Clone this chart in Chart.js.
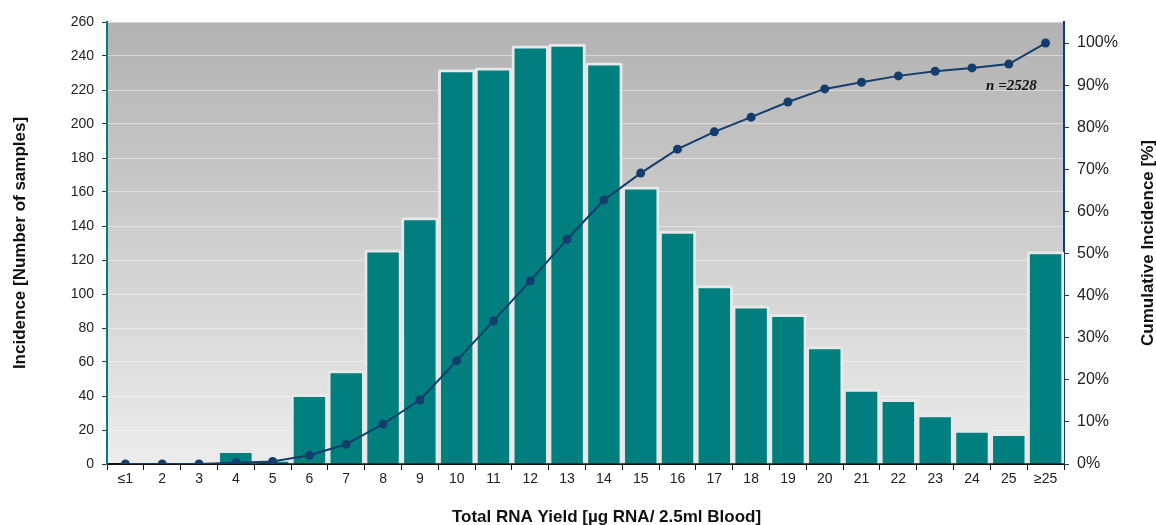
<!DOCTYPE html>
<html>
<head>
<meta charset="utf-8">
<script src="https://cdn.jsdelivr.net/npm/chart.js@4"></script>
<style>
  html, body { margin: 0; padding: 0; background: #ffffff; }
  #wrap { width: 1156px; height: 525px; position: relative; }
</style>
</head>
<body>
<div id="wrap"><canvas id="c"></canvas></div>
<script>
// ---- data ----
const categories = ['≤1','2','3','4','5','6','7','8','9','10','11','12','13','14','15','16','17','18','19','20','21','22','23','24','25','≥25'];
const incidence = [0,0,0,8,2,41,55,126,145,232,233,246,247,236,163,137,105,93,88,69,44,38,29,20,18,125];
const cumulative = [0,0,0,0.3,0.6,2.1,4.7,9.5,15.2,24.5,34.0,43.5,53.4,62.7,69.1,74.8,78.9,82.4,86.0,89.1,90.7,92.2,93.3,94.1,95.0,100];
const leftTitle = 'Incidence [Number of samples]';
const rightTitle = 'Cumulative Incidence [%]';
const bottomTitle = 'Total RNA Yield [µg RNA/ 2.5ml Blood]';
const nLabel = 'n =2528';

const TEAL = '#007f7e';
const NAVY = '#123d6c';

const bgPlugin = {
  id: 'bg',
  beforeDraw(chart) {
    const { ctx, chartArea: a } = chart;
    const g = ctx.createLinearGradient(0, a.top, 0, a.bottom);
    g.addColorStop(0, '#b2b2b2');
    g.addColorStop(1, '#ececec');
    ctx.save();
    ctx.fillStyle = g;
    ctx.fillRect(a.left, a.top, a.right - a.left, a.bottom - a.top);
    ctx.restore();
  },
  afterDraw(chart) {
    const { ctx, chartArea: a } = chart;
    ctx.save();
    // right axis title, reading bottom-to-top
    ctx.translate(1148, (a.top + a.bottom) / 2);
    ctx.rotate(-Math.PI / 2);
    ctx.font = 'bold 17px "Liberation Sans", Arial, sans-serif';
    ctx.fillStyle = '#111';
    ctx.textAlign = 'center';
    ctx.textBaseline = 'middle';
    ctx.fillText(rightTitle, 0, 0);
    ctx.restore();
    // bottom axis title
    ctx.save();
    ctx.font = 'bold 17px "Liberation Sans", Arial, sans-serif';
    ctx.fillStyle = '#111';
    ctx.textAlign = 'center';
    ctx.textBaseline = 'middle';
    ctx.fillText(bottomTitle, (a.left + a.right) / 2 + 21, 517);
    ctx.restore();
    // n label
    const xs = chart.scales.x, y2 = chart.scales.y2;
    ctx.save();
    ctx.font = 'italic bold 15px "Liberation Serif", "Times New Roman", serif';
    ctx.fillStyle = '#111';
    ctx.textAlign = 'center';
    ctx.textBaseline = 'middle';
    ctx.fillText(nLabel, (xs.getPixelForValue(23) + xs.getPixelForValue(24)) / 2 + 21, y2.getPixelForValue(89.8));
    ctx.restore();
  }
};

new Chart(document.getElementById('c'), {
  data: {
    labels: categories,
    datasets: [
      {
        type: 'line',
        data: cumulative,
        yAxisID: 'y2',
        borderColor: NAVY,
        backgroundColor: NAVY,
        borderWidth: 2,
        pointRadius: 4.5,
        pointBackgroundColor: NAVY,
        pointBorderColor: NAVY,
        pointBorderWidth: 0,
        tension: 0,
        order: 0
      },
      {
        type: 'bar',
        data: incidence,
        yAxisID: 'y',
        backgroundColor: TEAL,
        borderColor: '#e8e8e8',
        borderWidth: 3,
        borderRadius: 2,
        borderSkipped: 'bottom',
        barPercentage: 1,
        categoryPercentage: 1,
        order: 1
      }
    ]
  },
  options: {
    responsive: true,
    maintainAspectRatio: false,
    animation: false,
    devicePixelRatio: 1,
    layout: { padding: { top: 22, left: 0, right: 0, bottom: 0 } },
    plugins: { legend: { display: false }, tooltip: { enabled: false } },
    scales: {
      x: {
        offset: true,
        grid: { display: true, drawOnChartArea: false, offset: true, color: '#111', tickColor: '#111', tickLength: 6, lineWidth: 1 },
        border: { display: true, color: '#111', width: 2 },
        ticks: { color: '#222', font: { size: 14, family: '"Liberation Sans", Arial, sans-serif' }, padding: 1, maxRotation: 0, autoSkip: false },
        afterFit(s) { s.height = 61; }
      },
      y: {
        position: 'left',
        min: 0, max: 260,
        ticks: { stepSize: 20, color: '#222', font: { size: 14, family: '"Liberation Sans", Arial, sans-serif' }, padding: 8 },
        grid: { color: 'rgba(255,255,255,0.45)', lineWidth: 1, tickColor: '#333', tickLength: 5 },
        border: { display: true, color: TEAL, width: 2 },
        title: { display: true, text: leftTitle, color: '#111', font: { size: 17, weight: 'bold', family: '"Liberation Sans", Arial, sans-serif' }, padding: { top: 10, bottom: 0 } },
        afterFit(s) { s.width = 107; }
      },
      y2: {
        position: 'right',
        min: 0, max: 105,
        ticks: { stepSize: 10, color: '#222', font: { size: 16, family: '"Liberation Sans", Arial, sans-serif' }, padding: 8, callback: v => v + '%' },
        afterBuildTicks(s) { s.ticks = s.ticks.filter(t => t.value <= 100); },
        grid: { drawOnChartArea: false, tickColor: NAVY, tickLength: 5 },
        border: { display: true, color: NAVY, width: 2 },
        afterFit(s) { s.width = 92; }
      }
    }
  },
  plugins: [bgPlugin]
});
</script>
</body>
</html>
